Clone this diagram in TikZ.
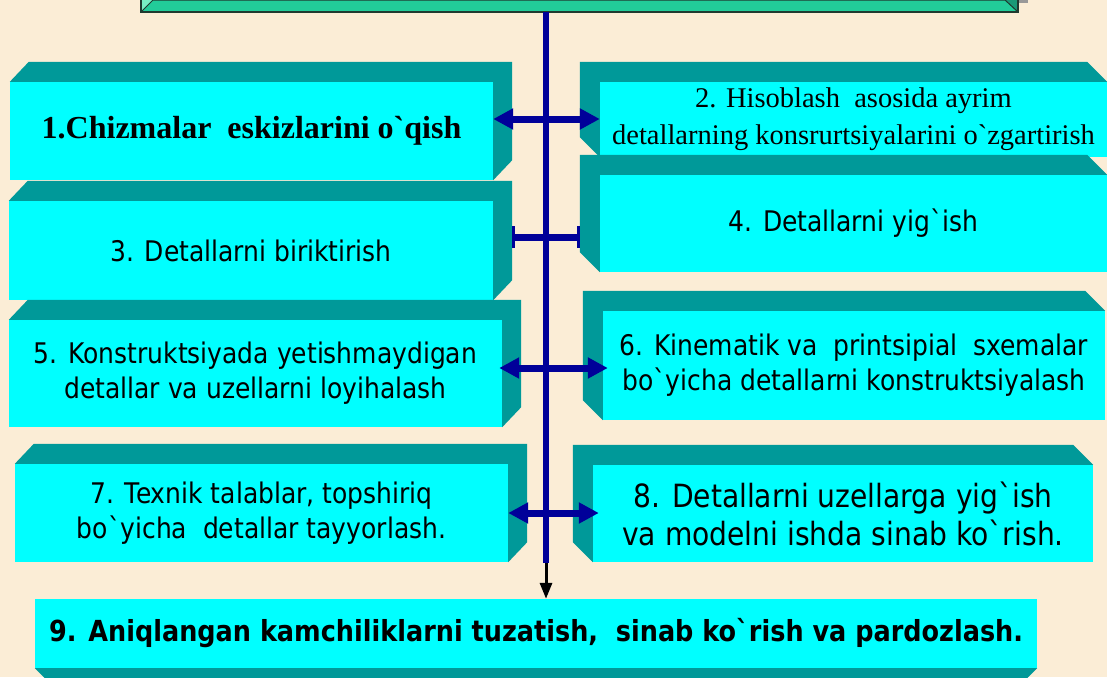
\documentclass[tikz,border=0pt]{standalone}
\usepackage{fontspec}
\setmainfont{Liberation Serif}[Ligatures=TeXOff]
\newfontfamily\tah[FakeStretch=0.88]{DejaVu Sans}
\usetikzlibrary{arrows.meta}
\definecolor{bg}{HTML}{FBEDD6}
\definecolor{cyanf}{HTML}{00FFFF}
\definecolor{tealf}{HTML}{009999}
\definecolor{navy}{HTML}{000099}
\definecolor{grn}{HTML}{22CC99}
\definecolor{grnl}{HTML}{77EEC4}
\definecolor{grnd}{HTML}{1A9977}
\definecolor{grnline}{HTML}{1F3A30}
\newcommand\boxUR[1]{\fill[tealf] (#1.north west) -- ++(19,-20) -- ([shift={(19,-20)}]#1.north east) -- ([shift={(19,-20)}]#1.south east) -- (#1.south east) -- (#1.north east) -- cycle;}
\newcommand\boxUL[1]{\fill[tealf] (#1.north east) -- ++(-20,-20) -- ([shift={(-20,-20)}]#1.north west) -- ([shift={(-20,-20)}]#1.south west) -- (#1.south west) -- (#1.north west) -- cycle;}
\begin{document}
\begin{tikzpicture}[x=1pt,y=-1pt,
 front/.style={fill=cyanf, inner sep=0pt, align=center, text=black},
 dbl/.style={navy, line width=7pt, {Triangle[length=20pt,width=20pt]}-{Triangle[length=20pt,width=20pt]}},
 barline/.style={navy, line width=7pt, {Bar[width=22pt,line width=2.5pt]}-{Bar[width=22pt,line width=2.5pt]}},
 vline/.style={navy, line width=6pt},
 downarrow/.style={black, line width=3pt, -{Triangle[length=16pt,width=12pt]}},
 tsf/.style={font=\tah\fontsize{28.4}{35}\selectfont},
 tbig/.style={font=\tah\fontsize{32}{38}\selectfont},
 tbold/.style={font=\tah\bfseries\fontsize{29}{34}\selectfont},
 rmb/.style={font=\bfseries\fontsize{32}{36}\selectfont},
 rmn/.style={font=\fontsize{28.5}{37}\selectfont},
]
\useasboundingbox (0,0) rectangle (1107,677);
\fill[bg] (0,0) rectangle (1107,677);

% top box
\node[fill=grn, inner sep=0pt, minimum width=877pt, minimum height=44pt] (top) at (579.5,-10) {};
\fill[grnl] (top.south west) -- ++(12,-12) -- ++(0,-40) -- (top.north west) -- cycle;
\fill[grnd] (top.south east) -- ++(-13,-12) -- ++(0,-40) -- (top.north east) -- cycle;
\draw[grnline, line width=1pt] (top.south west) -- ++(12,-12) -- ([shift={(-13,-12)}]top.south east) -- (top.south east);
\draw[grnline, line width=1.5pt] (top.north west) rectangle (top.south east);
\fill[gray!80] ([xshift=1pt]top.south east) ++(0,-12) rectangle ++(9,3);

% vertical line
\coordinate (vl) at (546,563);
\draw[vline] (vl |- top.south) -- (vl);

% boxes
\node[front, rmb, minimum width=483pt, minimum height=98pt] (b1) at (251.5,131) {1.Chizmalar\ \ eskizlarini o`qish};
\boxUR{b1}
\node[front, rmn, minimum width=507pt, minimum height=75pt] (b2) at (853.5,119.5) {2. Hisoblash\ \ asosida ayrim\\detallarning konsrurtsiyalarini o`zgartirish};
\boxUL{b2}
\node[front, tsf, minimum width=484pt, minimum height=99pt] (b3) at (251,250.5) {3. Detallarni biriktirish};
\boxUR{b3}
\node[front, tsf, minimum width=507pt, minimum height=97pt] (b4) at (853.5,223.5) {4. Detallarni yig`ish};
\boxUL{b4}
\node[front, tsf, minimum width=493pt, minimum height=107pt] (b5) at (255.5,373.5) {5. Konstruktsiyada yetishmaydigan\\detallar va uzellarni loyihalash};
\boxUR{b5}
\node[front, tsf, minimum width=502pt, minimum height=109pt] (b6) at (854,365.5) {6. Kinematik va\ \ printsipial\ \ sxemalar\\bo`yicha detallarni konstruktsiyalash};
\boxUL{b6}
\node[front, tsf, minimum width=493pt, minimum height=98pt] (b7) at (261.5,513) {7. Texnik talablar, topshiriq\\bo`yicha\ \ detallar tayyorlash.};
\boxUR{b7}
\node[front, tbig, minimum width=500pt, minimum height=97pt] (b8) at (843,513.5) {8. Detallarni uzellarga yig`ish\\va modelni ishda sinab ko`rish.};
\boxUL{b8}
\node[front, tbold, minimum width=1002pt, minimum height=69pt] (b9) at (536,633.5) {9. Aniqlangan kamchiliklarni tuzatish,\ \ sinab ko`rish va pardozlash.};
\fill[tealf] (b9.south west) -- (b9.south east) -- ++(-20,20) -- ([shift={(20,20)}]b9.south west) -- cycle;

% connectors
\coordinate (y12) at (546,119);
\coordinate (y34) at (546,237);
\coordinate (y56) at (546,368);
\coordinate (y78) at (546,513);
\draw[dbl] (y12 -| b1.east) -- (y12 -| b2.west);
\draw[barline] ([xshift=19pt]y34 -| b3.east) -- ([xshift=-20pt]y34 -| b4.west);
\draw[dbl] ([xshift=-3pt]y56 -| b5.east) -- ([xshift=5pt]y56 -| b6.west);
\draw[dbl] (y78 -| b7.east) -- ([xshift=6pt]y78 -| b8.west);
\draw[downarrow] (vl) -- (vl |- b9.north);
\end{tikzpicture}
\end{document}
